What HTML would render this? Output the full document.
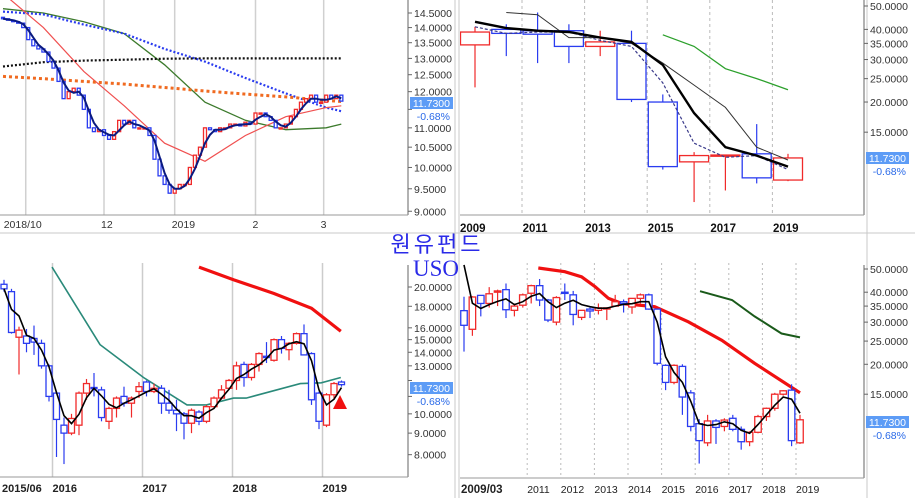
<!DOCTYPE html>
<html><head><meta charset="utf-8"><style>
html,body{margin:0;padding:0;background:#fff;}
svg{display:block;font-family:"Liberation Sans",sans-serif;}
</style></head><body>
<svg id="c" width="915" height="498" viewBox="0 0 915 498" xmlns="http://www.w3.org/2000/svg">
<defs>
<clipPath id="cTL"><rect x="0" y="0" width="408" height="215"/></clipPath>
<clipPath id="cTR"><rect x="460" y="0" width="404" height="215"/></clipPath>
<clipPath id="cBL"><rect x="0" y="263" width="408" height="214"/></clipPath>
<clipPath id="cBR"><rect x="460" y="263" width="404" height="215"/></clipPath>
</defs>
<g stroke="#c8c8c8" fill="none">
<line x1="455" y1="0" x2="455" y2="498"/><line x1="459" y1="0" x2="459" y2="498"/>
<line x1="0" y1="233" x2="915" y2="233"/>
<line x1="867" y1="0" x2="867" y2="498"/>
</g>
<text x="437" y="252" font-family="'Liberation Sans','Noto Sans CJK KR',sans-serif" font-size="22" fill="#2a2ae8" text-anchor="middle" letter-spacing="3">원유펀드</text>
<text x="436" y="276" font-family="'Liberation Serif',serif" font-size="23" fill="#2a2ae8" text-anchor="middle">USO</text>
</svg>
<script>
// ---------- DATA ----------
const tlClose=[14.3,14.25,14.2,14.15,14.0,13.6,13.4,13.3,13.2,12.9,12.7,12.3,11.8,12.0,12.1,11.9,11.5,11.0,10.9,10.95,10.8,10.7,10.9,11.2,11.1,11.2,11.0,11.0,11.0,10.8,10.2,9.8,9.6,9.4,9.5,9.6,9.6,10.0,10.3,10.5,11.0,10.95,10.9,11.0,11.0,11.1,11.1,11.05,11.15,11.1,11.4,11.4,11.3,11.2,11.0,11.0,11.1,11.3,11.5,11.7,11.8,11.9,11.7,11.7,11.9,11.8,11.9,11.73];
const tlMaIdx=[0,8,16,24,32,40,48,56,64,67];
const tlGreen=[14.65,14.5,14.2,13.8,12.8,11.7,11.2,10.95,11.0,11.1];
const tlBlueDot=[14.55,14.45,14.1,13.8,13.3,12.9,12.4,11.95,11.55,11.45];
const tlRed=[15.2,14.0,12.6,11.6,10.6,10.15,10.8,11.3,11.55,11.6];
const tlOrange=[12.45,12.38,12.3,12.22,12.12,12.02,11.93,11.85,11.75,11.72];
const tlBlackDot=[12.75,12.88,12.93,12.96,12.99,13.0,13.0,13.0,13.0,13.0];
const tlTicks=[14.5,14,13.5,13,12.5,12,11.5,11,10.5,10,9.5,9];
const tlXLabels=["2018/10","12","2019","2","3"];
const tlXIdx=[4.5,20,34,50,63.5];
const trYears=["2009","2011","2013","2015","2017","2019"];
const trO=[34.5,40,39.5,39.5,34,35,20,11.3,12.0,12.2,9.5];
const trH=[41,42,47,42,39.5,39.5,21.5,12.4,12.1,16.2,12.2];
const trL=[23,31,29,29,31,20,10.5,7.7,8.6,9.2,9.4];
const trC=[39,38.5,38.2,34,35.5,20.5,10.8,12.0,12.06,9.7,11.73];
const trBlack=[43,40.5,39.5,39,37,35.5,28.5,18,13,12,10.8];
const trThinIdx=[1,2,3,4,5,6,7,8,9,10];
const trThin=[47,46,37,37,35,29,23.5,19,13,11.5];
const trDash=[41,38.5,39,39,36,34,24,13.5,11.8,12,10.5];
const trGreenIdx=[6,7,8,9,10];
const trGreen=[38,34,27.5,25,22.5];
const trTicks=[50,40,35,30,25,20,15];
const blO=[20.3,19.5,15.2,15.3,15.1,14.7,13,11.2,9.4,9.0,9.4,11.2,11.55,11.4,9.6,10.3,11.0,10.6,11.3,11.9,11.3,11.5,10.6,10.2,10.0,9.5,10.1,9.6,10.4,10.9,11.5,12.0,13.1,12.2,13.1,13.7,13.4,15.0,14.2,14.7,15.5,13.9,11.2,9.4,11.1,11.9];
const blH=[20.8,19.8,16.1,15.9,16.2,15,13.1,11.3,9.8,10,11.3,12.1,12.5,11.6,10.4,11,11.6,11,11.9,12,11.8,11.7,11.4,10.8,10.1,10.3,10.2,10.5,11,11.7,12.1,13.3,13.3,13.2,14,14.8,15.1,15.3,14.8,15.6,16.3,14,11.3,11.2,11.9,12];
const blL=[19.5,15.5,12.4,14,13.8,12.8,10.7,7.9,7.6,8.9,8.9,10.8,11,9.6,9.2,9.8,10.4,9.8,10.9,11,11.2,10,10,9.1,8.7,9,9.4,9.5,10.3,10.8,11.4,11.4,11.6,12,12.6,13.2,13.3,13.9,13.4,14.6,13.8,10.5,9.2,9.3,10.8,11.6];
const blC=[19.8,15.6,15.8,14.7,14.8,13.0,11.0,9.7,9.0,9.75,11.2,11.8,11.5,9.8,10.3,10.9,10.6,10.9,11.6,11.3,11.5,10.6,10.2,10.0,9.5,10.2,9.6,10.4,10.9,11.4,12.0,13.0,12.2,13.1,13.9,13.6,15.0,14.3,14.7,15.5,13.8,10.8,9.6,11.1,11.8,11.73];
const blTealIdx=[6.4,12.8,18.6,24.4,27,30.6,32.3,39.5,42.3,44.9];
const blTeal=[22.3,14.6,12.2,10.5,10.5,10.9,10.9,11.8,11.85,12.2];
const blRedIdx=[26,30.6,36,41,44.9];
const blRed=[22.3,20.8,19.3,17.8,15.7];
const blTicks=[20,18,16,15,14,13,12,11,10,9,8];
const blXLabels=["2015/06","2016","2017","2018","2019"];
const blXIdx=[0,7,19,31,43];
const brO=[33.5,28,38.8,35.9,40,41,33.6,35.3,39.6,42.6,37.1,30,40,39,31.4,34,33.6,34.2,35,36.5,34.7,37.7,39,34,19.8,16.8,19.6,15.2,11.3,9.4,11.6,11.0,11.9,10.7,9.5,10.4,12.1,13.1,15,15.6,9.4];
const brH=[38.3,38.5,38.8,42,41,43.5,35.9,39.5,43,45.4,37.5,38.5,43.5,40.5,33.6,34.5,35.9,34.6,39,37.3,37.8,39.5,39.5,34.2,20,20,20,15.6,11.8,12.3,11.8,11.9,12.3,11,10.5,12.3,13.2,15.2,15.6,16.5,12.3];
const brL=[22.6,26.3,31.7,34.5,35,31.2,31.7,34.5,35.9,35,30,29.1,37.1,29.1,30.6,31.2,32.3,30.6,34.7,32.9,32.5,35.9,33.8,19.8,15.6,16.5,12.3,10.5,7.7,9.1,9.3,10.5,10.5,8.8,9.1,10.3,11.6,12.8,14.8,9.1,9.3];
const brC=[29.1,38.2,35.9,39.4,40.5,33.8,35,39,42.6,37.1,30.6,38,39.7,32.3,33.6,33.4,34.4,34.4,36.5,35.9,37.7,39,34,20.2,16.8,19.8,14.6,11.0,9.6,11.6,10.9,11.7,10.7,9.5,10.4,12.1,13.1,15,15.5,9.6,11.73];
const brBlack=[52,36,34.2,35.5,36.6,37.5,35.5,36.5,38.5,39.5,36.5,34.5,36,37,35.5,34.8,34.3,34.3,35,35.6,35.8,36.5,36.5,30,21.5,18.5,16.8,14,11.3,11.1,11.2,11.5,11.3,10.6,10.3,11.2,12.3,13.5,14.6,14.3,12.5];
const brRedIdx=[8.85,12,14,15.6,17.2,18.8,22.7,26.7,30.7,34.6,40];
const brRed=[50.5,48.7,46.4,42.2,37.7,35.9,34.8,30.1,25.2,20.2,15.2];
const brGreenIdx=[28.1,31.9,34.6,37.8,40];
const brGreen=[40.4,37.1,31.7,26.9,25.9];
const brTicks=[50,40,35,30,25,20,15];
const brXLabels=["2009/03","2011","2012","2013","2014","2015","2016","2017","2018","2019"];
const brXIdx=[0,8,12,16,20,24,28,32,36,40];

// ---------- SCALES ----------
const L50=Math.log(50),L20=Math.log(20),L145=Math.log(14.5);
const xTL=i=>3+i*5.05, yTL=v=>13+(L145-Math.log(v))*415.7;
const xTR=k=>475+k*31.3, yTR=v=>6+(L50-Math.log(v))*104.8;
const xBL=i=>4+i*7.5, yBL=v=>287+(L20-Math.log(v))*183;
const xBR=i=>464+i*8.4, yBR=v=>269+(L50-Math.log(v))*104;

const NS="http://www.w3.org/2000/svg";
const svg=document.getElementById('c');
function mk(tag,attrs,parent){const e=document.createElementNS(NS,tag);for(const k in attrs)e.setAttribute(k,attrs[k]);(parent||svg).appendChild(e);return e;}
const RED="#f02a2a",BLUE="#2a3cf0";

function grp(name,clip){const g=mk('g',clip?{'clip-path':'url(#'+clip+')'}:{});


return g;}

function candles(g,xf,yf,o,h,l,c,w,name){
  for(let i=0;i<c.length;i++){
    const col=c[i]>=o[i]?RED:BLUE;const x=xf(i);
    const cg=mk('g',{},g);
    
    
    if(h){mk('line',{x1:x,x2:x,y1:yf(h[i]),y2:yf(l[i]),stroke:col,'stroke-width':1.2},cg);}
    const t=Math.min(yf(o[i]),yf(c[i])),b=Math.max(yf(o[i]),yf(c[i]));
    mk('rect',{x:x-w/2,y:t,width:w,height:Math.max(b-t,1.2),fill:'#fff',stroke:col,'stroke-width':1.3},cg);
  }
}
function line(g,xs,vals,xf,yf,attrs,name){
  const d=vals.map((v,k)=>(k?'L':'M')+xf(xs[k]).toFixed(1)+' '+yf(v).toFixed(1)).join(' ');
  const p=mk('path',Object.assign({d:d,fill:'none'},attrs),g);
  
  
}
const seq=n=>Array.from({length:n},(_,i)=>i);
function yAxis(g,ticks,yf,x,name,boxY){
  ticks.forEach(v=>{
    const y=yf(v);
    mk('line',{x1:x,x2:x+4,y1:y,y2:y,stroke:'#666'},g);
    if(y>boxY-4 && y<boxY+30) return;
    const t=mk('text',{x:x+6,y:y+4,'font-size':10.5,fill:'#333'},g);
    t.textContent=v.toFixed(4);
    
    
  });
}
function lastBox(g,x,y,name){
  const b=mk('g',{},g);
  
  
  mk('rect',{x:x,y:y,width:43,height:12,fill:'#5d9cf6'},b);
  const t=mk('text',{x:x+40,y:y+10,'font-size':10.5,fill:'#fff','text-anchor':'end'},b);t.textContent='11.7300';
  const t2=mk('text',{x:x+40,y:y+23,'font-size':10.5,fill:'#2a6ae8','text-anchor':'end'},b);t2.textContent='-0.68%';
}

// ---------- TOP LEFT ----------
{
  const ax=grp('daily-axes');
  tlXIdx.forEach(i=>mk('line',{x1:xTL(i),x2:xTL(i),y1:0,y2:215,stroke:'#d0d0d0','stroke-width':1.5},ax));
  mk('line',{x1:408,x2:408,y1:0,y2:215,stroke:'#666'},ax);
  mk('line',{x1:0,x2:408,y1:215,y2:215,stroke:'#999'},ax);
  yAxis(ax,tlTicks,yTL,408,'daily-y-axis',97);
  tlXLabels.forEach((s,k)=>{const t=mk('text',{x:xTL(tlXIdx[k])-(k==0?22:3),y:228,'font-size':10.5,fill:'#333'},ax);t.textContent=s;
    });
  const g=grp('daily-plot','cTL');
  line(g,tlMaIdx,tlGreen,xTL,yTL,{stroke:'#3c7a2c','stroke-width':1.3},'daily-ma-green');
  line(g,tlMaIdx,tlBlueDot,xTL,yTL,{stroke:'#2a3cf0','stroke-width':2.2,'stroke-dasharray':'2 2'},'daily-ma-blue-dotted');
  line(g,tlMaIdx,tlRed,xTL,yTL,{stroke:'#f05050','stroke-width':1.2},'daily-ma-red');
  line(g,tlMaIdx,tlOrange,xTL,yTL,{stroke:'#f06a20','stroke-width':3,'stroke-dasharray':'3 3'},'daily-ma-orange-dotted');
  line(g,tlMaIdx,tlBlackDot,xTL,yTL,{stroke:'#111','stroke-width':2.2,'stroke-dasharray':'2 2'},'daily-ma-black-dotted');
  const tlOpen=tlClose.map((c,i)=>i?tlClose[i-1]:c+0.05);
  candles(g,xTL,yTL,tlOpen,null,null,tlClose,3,'daily-candle');
  const ma=tlClose.map((c,i)=>{const s=tlClose.slice(Math.max(0,i-2),i+1);return s.reduce((a,b)=>a+b,0)/s.length;});
  line(g,seq(ma.length),ma,xTL,yTL,{stroke:'#0a1a80','stroke-width':2},'daily-ma-navy');
  lastBox(ax,410,97,'daily-last-price');
}
// ---------- TOP RIGHT ----------
{
  const ax=grp('yearly-axes');
  [2,4,6,8,10].forEach(k=>mk('line',{x1:xTR(k)-15.6,x2:xTR(k)-15.6,y1:0,y2:215,stroke:'#bbb','stroke-dasharray':'3 3'},ax));
  mk('line',{x1:864,x2:864,y1:0,y2:215,stroke:'#666'},ax);
  mk('line',{x1:460,x2:864,y1:215,y2:215,stroke:'#999'},ax);
  yAxis(ax,trTicks,yTR,864,'yearly-y-axis',152);
  trYears.forEach((s,k)=>{const t=mk('text',{x:460+k*62.6,y:232,'font-size':11.5,'font-weight':'bold',fill:'#111'},ax);t.textContent=s;
    });
  const g=grp('yearly-plot','cTR');
  candles(g,xTR,yTR,trO,trH,trL,trC,29,'yearly-candle');
  line(g,trGreenIdx,trGreen,xTR,yTR,{stroke:'#2ca02c','stroke-width':1.3},'yearly-ma-green');
  line(g,seq(trDash.length),trDash,xTR,yTR,{stroke:'#3a3a8a','stroke-width':1.2,'stroke-dasharray':'3 2'},'yearly-ma-dashed');
  line(g,trThinIdx,trThin,xTR,yTR,{stroke:'#333','stroke-width':1},'yearly-ma-thin');
  line(g,seq(trBlack.length),trBlack,xTR,yTR,{stroke:'#000','stroke-width':2.4},'yearly-ma-black');
  lastBox(ax,866,152,'yearly-last-price');
}
// ---------- BOTTOM LEFT ----------
{
  const ax=grp('monthly-axes');
  [7,19,31,43].forEach(i=>mk('line',{x1:xBL(i)-4,x2:xBL(i)-4,y1:263,y2:477,stroke:'#ccc','stroke-width':1.5},ax));
  mk('line',{x1:408,x2:408,y1:265,y2:477,stroke:'#666'},ax);
  mk('line',{x1:0,x2:408,y1:477,y2:477,stroke:'#999'},ax);
  yAxis(ax,blTicks,yBL,408,'monthly-y-axis',382);
  blXLabels.forEach((s,k)=>{const t=mk('text',{x:k?xBL(blXIdx[k])-4:2,y:492,'font-size':11,'font-weight':'bold',fill:'#222'},ax);t.textContent=s;
    });
  const g=grp('monthly-plot','cBL');
  line(g,blTealIdx,blTeal,xBL,yBL,{stroke:'#2a8a7a','stroke-width':1.6},'monthly-ma-teal');
  line(g,blRedIdx,blRed,xBL,yBL,{stroke:'#f01010','stroke-width':3.2},'monthly-ma-red');
  candles(g,xBL,yBL,blO,blH,blL,blC,6,'monthly-candle');
  const ma=blC.map((c,i)=>{const s=blC.slice(Math.max(0,i-2),i+1);return s.reduce((a,b)=>a+b,0)/s.length;});
  line(g,seq(ma.length),ma,xBL,yBL,{stroke:'#000','stroke-width':1.6},'monthly-ma-black');
  const ar=mk('path',{d:'M340 395 L347 409 L333 409 Z',fill:'#f01010'},g);
  
  lastBox(ax,410,382,'monthly-last-price');
}
// ---------- BOTTOM RIGHT ----------
{
  const ax=grp('quarterly-axes');
  [8,12,16,20,24,28,32,36,40].forEach(i=>mk('line',{x1:xBR(i)-4,x2:xBR(i)-4,y1:263,y2:478,stroke:'#bbb','stroke-dasharray':'2 3'},ax));
  mk('line',{x1:864,x2:864,y1:265,y2:478,stroke:'#666'},ax);
  mk('line',{x1:460,x2:864,y1:478,y2:478,stroke:'#999'},ax);
  yAxis(ax,brTicks,yBR,864,'quarterly-y-axis',416);
  brXLabels.forEach((s,k)=>{const t=mk('text',{x:k?xBR(brXIdx[k])-4:461,y:493,'font-size':k?10.5:11.5,'font-weight':k?'normal':'bold',fill:'#222'},ax);t.textContent=s;
    });
  const g=grp('quarterly-plot','cBR');
  line(g,brRedIdx,brRed,xBR,yBR,{stroke:'#f01010','stroke-width':3.2},'quarterly-ma-red');
  line(g,brGreenIdx,brGreen,xBR,yBR,{stroke:'#1a5a1a','stroke-width':2},'quarterly-ma-green');
  candles(g,xBR,yBR,brO,brH,brL,brC,6.5,'quarterly-candle');
  line(g,seq(brBlack.length),brBlack,xBR,yBR,{stroke:'#000','stroke-width':1.6},'quarterly-ma-black');
  lastBox(ax,866,416,'quarterly-last-price');
}
</script>
</body></html>
